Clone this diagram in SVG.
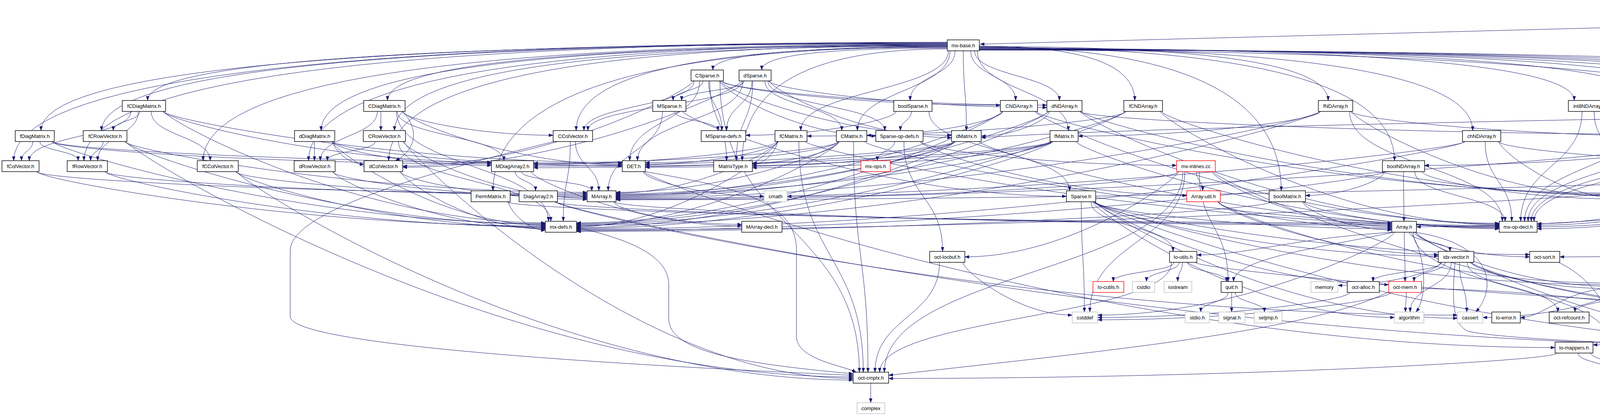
<svg xmlns="http://www.w3.org/2000/svg" width="6073" height="1064" viewBox="0 0 6073 1064">
<style>
.n rect{fill:#fff;stroke:#000;stroke-width:1.4}
.g rect{fill:#fff;stroke:#bfbfbf;stroke-width:1.4}
.r rect{fill:#fff;stroke:#ff0000;stroke-width:1.4}
.root rect{fill:#bfbfbf;stroke:#000;stroke-width:1.4}
text{font-family:"Liberation Sans",Arial,sans-serif;font-size:13px;text-anchor:middle;fill:#000}
#edges path{fill:none;stroke:#191970;stroke-width:1;marker-end:url(#a)}
</style>
<defs>
<marker id="a" markerUnits="userSpaceOnUse" markerWidth="11" markerHeight="8" refX="11" refY="4" orient="auto"><path d="M0,0 L11,4 L0,8 z" fill="#191970" stroke="#191970" stroke-width="0.5"/></marker>
</defs>
<rect width="6073" height="1064" fill="#fff"/>
<g id="edges">
<path d="M5621,31 L2509,113"/>
<path d="M5720,52 C5720,77 5724,77 5724,102"/>
<path d="M5765,44 C5870,65 5950,85 5992,102"/>
<path d="M5675,52 C5640,130 5540,180 5535,257"/>
<path d="M5621,46 C5480,90 5457,160 5457,250 C5457,360 5370,440 5345,488"/>
<path d="M5665,52 C5612,130 5609,210 5609,320 L5609,540 C5609,600 5570,620 5560,643"/>
<path d="M5688,52 C5690,200 5706,350 5706,540 C5706,700 5540,770 5461,806"/>
<path d="M5735,52 C5830,170 5850,260 5720,400 C5600,500 5470,545 5418,568"/>
<path d="M5762,48 C5885,80 5900,150 5900,300 L5900,790 C5900,860 5400,875 4581,889"/>
<path d="M5765,41 C5945,80 5951,160 5951,300 L5951,800 C5951,870 5500,885 4714,890"/>
<path d="M5735,130 C5735,155 5772,155 5772,179"/>
<path d="M5728,130 C5735,300 5760,450 5760,560 C5760,700 5560,790 5461,814"/>
<path d="M6028,130 L6028,179"/>
<path d="M2425,108 Q35,108 35,411"/>
<path d="M2425,109 Q215,109 215,411"/>
<path d="M2425,110 Q105,110 105,334"/>
<path d="M2425,111 Q260,111 260,334"/>
<path d="M2425,112 Q378,112 378,257"/>
<path d="M2425,113 Q520,113 520,411"/>
<path d="M2425,114 Q790,114 790,411"/>
<path d="M2425,115 Q822,115 822,334"/>
<path d="M2425,116 Q995,116 995,411"/>
<path d="M2425,117 Q992,117 992,257"/>
<path d="M2425,118 Q1010,118 1010,334"/>
<path d="M2425,119 Q1475,119 1475,334"/>
<path d="M2425,120 Q1262,120 1262,488"/>
<path d="M2425,121 Q1825,121 1825,179"/>
<path d="M2425,123 Q1950,123 1950,179"/>
<path d="M2425,125 Q1900,125 1900,411"/>
<path d="M2445,130 C2445,194 2330,194 2330,257"/>
<path d="M2432,130 C2432,232 2195,232 2195,334"/>
<path d="M2428,130 C2428,232 2050,232 2050,334"/>
<path d="M2466,130 C2466,232 2474,232 2474,334"/>
<path d="M2485,130 C2485,194 2600,194 2600,257"/>
<path d="M2495,130 C2495,194 2712,194 2712,257"/>
<path d="M2502,130 C2502,232 2735,232 2735,334"/>
<path d="M2507,118 Q2905,118 2905,257"/>
<path d="M2507,119 Q3400,119 3400,257"/>
<path d="M2507,120 Q3280,120 3280,488"/>
<path d="M2507,121 Q3570,121 3570,411"/>
<path d="M2507,122 Q3770,122 3770,334"/>
<path d="M2507,123 Q4030,123 4030,257"/>
<path d="M2507,124 Q4228,124 4228,257"/>
<path d="M2507,125 Q4392,125 4392,257"/>
<path d="M2507,126 Q4533,126 4533,257"/>
<path d="M2507,126 Q4670,126 4670,257"/>
<path d="M2507,127 Q4806,127 4806,257"/>
<path d="M2507,127 Q4962,127 4962,257"/>
<path d="M2507,128 Q5212,128 5212,257"/>
<path d="M2507,128 Q4800,128 4800,411"/>
<path d="M1775,207 C1775,227 1403,425 1031,425"/>
<path d="M1777,207 C1777,270 1495,270 1495,334"/>
<path d="M1800,207 C1800,232 1723,232 1723,257"/>
<path d="M1814,207 C1814,270 1848,270 1848,334"/>
<path d="M1817,207 C1817,309 1860,309 1860,411"/>
<path d="M1791,207 C1791,309 1612,309 1612,411"/>
<path d="M1844,207 C1844,227 2140,346 2436,346"/>
<path d="M1846,207 C1846,227 2263,269 2680,269"/>
<path d="M1850,207 C1850,227 2205,269 2561,269"/>
<path d="M1842,207 C1842,227 2042,348 2242,348"/>
<path d="M1843,207 C1843,580 2200,580 2200,952"/>
<path d="M1898,207 C1898,227 1465,428 1031,428"/>
<path d="M1900,207 C1900,270 1505,270 1505,334"/>
<path d="M1905,207 C1905,232 1745,232 1745,257"/>
<path d="M1925,207 C1925,270 1860,270 1860,334"/>
<path d="M1927,207 C1927,309 1885,309 1885,411"/>
<path d="M1902,207 C1902,309 1632,309 1632,411"/>
<path d="M1970,207 C1970,227 2203,352 2436,352"/>
<path d="M1968,207 C1968,227 2324,275 2680,275"/>
<path d="M1958,207 C1958,270 2155,270 2155,334"/>
<path d="M1966,207 C1966,270 2265,270 2265,334"/>
<path d="M1696,285 C1696,386 1557,386 1557,488"/>
<path d="M1748,285 C1748,305 2239,502 2730,502"/>
<path d="M1727,285 C1727,309 1838,309 1838,334"/>
<path d="M2378,285 C2378,386 2738,386 2738,488"/>
<path d="M2333,285 C2333,309 2305,309 2305,334"/>
<path d="M2294,285 C2294,305 2101,346 1909,346"/>
<path d="M2567,285 C2567,305 2393,346 2219,346"/>
<path d="M2566,285 C2566,305 2071,500 1577,500"/>
<path d="M2565,285 C2565,305 2020,570 1476,570"/>
<path d="M2650,285 C2650,305 3244,571 3838,571"/>
<path d="M2652,285 C2652,305 3398,494 4145,494"/>
<path d="M2686,285 C2686,305 2599,348 2512,348"/>
<path d="M2684,285 C2684,305 2130,502 1577,502"/>
<path d="M2764,285 C2764,305 3561,344 4359,344"/>
<path d="M2683,285 C2683,305 2080,572 1476,572"/>
<path d="M2766,285 C2766,305 3302,573 3838,573"/>
<path d="M2768,285 C2768,305 3456,497 4145,497"/>
<path d="M2882,285 C2882,305 2474,348 2066,348"/>
<path d="M2881,285 C2881,305 2229,504 1577,504"/>
<path d="M2880,285 C2880,305 2178,574 1476,574"/>
<path d="M2971,285 C2971,305 3404,575 3838,575"/>
<path d="M2973,285 C2973,305 3559,500 4145,500"/>
<path d="M3380,285 C3380,305 3070,348 2760,348"/>
<path d="M3379,285 C3379,305 2478,506 1577,506"/>
<path d="M3458,285 C3458,305 3908,350 4359,350"/>
<path d="M3378,285 C3378,305 2427,576 1476,576"/>
<path d="M3455,285 C3455,425 3846,425 3846,566"/>
<path d="M3460,285 C3460,305 3802,503 4145,503"/>
<path d="M2147,362 C2147,382 1862,492 1577,492"/>
<path d="M2146,362 C2146,382 1756,417 1366,417"/>
<path d="M2147,362 C2147,382 2036,417 1926,417"/>
<path d="M2148,362 C2148,382 1812,578 1476,578"/>
<path d="M2214,362 C2214,382 3026,577 3838,577"/>
<path d="M2185,362 C2185,657 2222,657 2222,952"/>
<path d="M2145,362 C2145,382 1899,416 1652,416"/>
<path d="M1990,362 C1990,382 1783,494 1577,494"/>
<path d="M1989,362 C1989,382 1677,421 1366,421"/>
<path d="M1990,362 C1990,382 1958,421 1926,421"/>
<path d="M1991,362 C1991,382 1733,580 1476,580"/>
<path d="M2062,362 C2062,382 2950,579 3838,579"/>
<path d="M2045,362 C2045,657 2210,657 2210,952"/>
<path d="M1992,362 C1992,382 1822,420 1652,420"/>
<path d="M2442,362 C2442,382 2010,496 1577,496"/>
<path d="M2441,362 C2441,382 1903,425 1366,425"/>
<path d="M2443,362 C2443,382 2184,425 1926,425"/>
<path d="M2444,362 C2444,382 1960,582 1476,582"/>
<path d="M2507,362 C2507,382 3172,581 3838,581"/>
<path d="M2445,362 C2445,382 2048,424 1652,424"/>
<path d="M2692,362 C2692,382 2135,498 1577,498"/>
<path d="M2691,362 C2691,382 2028,429 1366,429"/>
<path d="M2693,362 C2693,382 2310,429 1926,429"/>
<path d="M2694,362 C2694,382 2085,584 1476,584"/>
<path d="M2755,362 C2755,382 3296,583 3838,583"/>
<path d="M2695,362 C2695,382 2174,428 1652,428"/>
<path d="M2290,362 C2290,386 2246,386 2246,411"/>
<path d="M2314,362 C2314,502 2413,502 2413,643"/>
<path d="M2357,362 C2357,382 2697,500 3038,500"/>
<path d="M2358,362 C2358,382 2685,423 3012,423"/>
<path d="M3750,362 C3750,382 2663,508 1577,508"/>
<path d="M3836,362 C3836,382 4285,424 4735,424"/>
<path d="M3749,362 C3749,382 2612,586 1476,586"/>
<path d="M3802,362 C3802,464 3870,464 3870,566"/>
<path d="M3837,362 C3837,382 3991,506 4145,506"/>
<path d="M4364,362 C4364,382 2970,510 1577,510"/>
<path d="M4363,362 C4363,382 4005,423 3647,423"/>
<path d="M4116,285 C4116,305 4237,338 4359,338"/>
<path d="M4050,285 C4050,425 3893,425 3893,566"/>
<path d="M4109,285 C4109,541 4609,541 4609,798"/>
<path d="M4081,285 C4081,386 4175,386 4175,488"/>
<path d="M4284,285 C4284,309 4394,309 4394,334"/>
<path d="M4232,285 C4232,425 3903,425 3903,566"/>
<path d="M4308,285 C4308,541 4620,541 4620,798"/>
<path d="M4262,285 C4262,386 4188,386 4188,488"/>
<path d="M4430,285 C4430,309 4415,309 4415,334"/>
<path d="M4380,285 C4380,425 3912,425 3912,566"/>
<path d="M4455,285 C4455,541 4632,541 4632,798"/>
<path d="M4409,285 C4409,386 4200,386 4200,488"/>
<path d="M4522,285 C4522,305 4489,338 4457,338"/>
<path d="M4523,285 C4523,425 3920,425 3920,566"/>
<path d="M4579,285 C4579,541 4645,541 4645,798"/>
<path d="M4533,285 C4533,386 4212,386 4212,488"/>
<path d="M4658,285 C4658,305 4557,342 4457,342"/>
<path d="M4660,285 C4660,425 3927,425 3927,566"/>
<path d="M4702,285 C4702,541 4657,541 4657,798"/>
<path d="M4664,285 C4664,386 4224,386 4224,488"/>
<path d="M4794,285 C4794,305 4625,346 4457,346"/>
<path d="M4796,285 C4796,305 4365,572 3935,572"/>
<path d="M4825,285 C4825,541 4670,541 4670,798"/>
<path d="M4798,285 C4798,305 4521,495 4244,495"/>
<path d="M4951,285 C4951,305 4704,350 4457,350"/>
<path d="M4953,285 C4953,305 4444,576 3935,576"/>
<path d="M4966,285 C4966,541 4682,541 4682,798"/>
<path d="M4955,285 C4955,305 4600,501 4244,501"/>
<path d="M5201,285 C5201,305 4829,354 4457,354"/>
<path d="M5203,285 C5203,305 4569,580 3935,580"/>
<path d="M5205,285 C5205,541 4693,541 4693,798"/>
<path d="M5207,285 C5207,305 4725,507 4244,507"/>
<path d="M5498,276 C4500,300 3000,320 2512,352"/>
<path d="M5520,285 C5500,450 5450,600 5000,630 C4500,650 4200,657 3993,657"/>
<path d="M5541,285 C5541,600 4700,700 4700,875"/>
<path d="M5296,505 C4500,505 4200,580 3626,580"/>
<path d="M5325,516 C5325,541 5292,541 5292,566"/>
<path d="M5339,516 C5339,541 5394,541 5394,566"/>
<path d="M5342,516 C5342,657 5423,657 5423,798"/>
<path d="M5304,516 C5304,695 4690,695 4690,875"/>
<path d="M4818,432 C5050,432 5100,502 5296,502"/>
<path d="M4741,439 C4741,459 3159,511 1577,511"/>
<path d="M4740,439 C4740,459 3108,588 1476,588"/>
<path d="M4742,439 C4742,459 4338,585 3935,585"/>
<path d="M3593,439 C3593,502 3594,502 3594,566"/>
<path d="M3545,439 C3545,459 2510,590 1476,590"/>
<path d="M3622,439 C3622,502 3853,502 3853,566"/>
<path d="M3544,439 C3544,459 3443,500 3342,500"/>
<path d="M3641,439 C3641,459 3893,509 4145,509"/>
<path d="M3336,516 C3336,536 3450,588 3563,588"/>
<path d="M3255,516 C3255,536 2366,592 1476,592"/>
<path d="M3338,516 C3338,536 3588,585 3838,585"/>
<path d="M1319,439 C1319,463 1371,463 1371,488"/>
<path d="M1335,439 C1335,463 1515,463 1515,488"/>
<path d="M1360,439 C1360,459 1630,578 1899,578"/>
<path d="M418,285 C418,305 838,415 1258,415"/>
<path d="M354,285 C354,348 250,348 250,411"/>
<path d="M358,285 C358,309 290,309 290,334"/>
<path d="M335,285 C335,348 75,348 75,411"/>
<path d="M387,285 C387,348 538,348 538,411"/>
<path d="M419,285 C419,305 1006,416 1593,416"/>
<path d="M420,285 C420,305 908,570 1396,570"/>
<path d="M133,362 C133,382 696,419 1258,419"/>
<path d="M102,362 C102,386 200,386 200,411"/>
<path d="M84,362 C84,386 55,386 55,411"/>
<path d="M134,362 C134,382 864,419 1593,419"/>
<path d="M135,362 C135,382 766,572 1396,572"/>
<path d="M1017,285 C1017,348 1290,348 1290,411"/>
<path d="M966,285 C966,348 820,348 820,411"/>
<path d="M975,285 C975,310 975,310 975,334"/>
<path d="M1030,285 C1075,330 1065,385 1012,411"/>
<path d="M1031,285 C1031,305 1223,346 1416,346"/>
<path d="M1032,285 C1032,305 1312,422 1593,422"/>
<path d="M1015,285 C1015,425 1404,425 1404,566"/>
<path d="M851,362 C851,382 1054,423 1258,423"/>
<path d="M805,362 C805,386 805,386 805,411"/>
<path d="M853,362 C853,382 891,420 932,420"/>
<path d="M852,362 C852,382 1222,425 1593,425"/>
<path d="M850,362 C850,382 1124,576 1396,576"/>
<path d="M320,362 C320,382 911,492 1503,492"/>
<path d="M264,362 C264,386 232,386 232,411"/>
<path d="M321,362 C321,382 858,574 1396,574"/>
<path d="M322,362 C322,382 1253,964 2184,964"/>
<path d="M1033,362 C1033,382 1268,507 1503,507"/>
<path d="M960,362 C960,386 838,386 838,411"/>
<path d="M1020,362 C1020,464 1410,464 1410,566"/>
<path d="M1034,362 C1034,382 1609,968 2184,968"/>
<path d="M1473,362 C1473,425 1533,425 1533,488"/>
<path d="M1460,362 C1460,464 1442,464 1442,566"/>
<path d="M1418,362 C1100,440 745,540 743,640 L743,810 C745,880 1500,930 2184,960"/>
<path d="M94,439 C94,459 798,495 1503,495"/>
<path d="M95,439 C95,459 745,578 1396,578"/>
<path d="M269,439 C269,459 886,498 1503,498"/>
<path d="M270,439 C270,459 833,580 1396,580"/>
<path d="M604,439 C604,459 1053,501 1503,501"/>
<path d="M605,439 C605,459 1000,582 1396,582"/>
<path d="M606,439 C606,459 1395,972 2184,972"/>
<path d="M852,439 C852,459 1177,504 1503,504"/>
<path d="M853,439 C853,459 1124,584 1396,584"/>
<path d="M1025,439 C1025,459 1264,510 1503,510"/>
<path d="M1026,439 C1026,459 1211,586 1396,586"/>
<path d="M1298,516 C1298,536 2430,570 3563,570"/>
<path d="M1302,516 C1302,536 1349,589 1396,589"/>
<path d="M1421,516 C1421,536 2492,573 3563,573"/>
<path d="M1422,516 C1422,536 2577,806 3731,806"/>
<path d="M1423,516 C1423,536 2972,885 4521,885"/>
<path d="M1571,516 C1571,536 2567,576 3563,576"/>
<path d="M1572,516 C1572,536 1736,574 1899,574"/>
<path d="M1647,439 C1647,459 1801,502 1956,502"/>
<path d="M1650,439 C1900,480 2039,520 2039,640 L2039,860 C2039,920 2160,935 2192,952"/>
<path d="M1648,439 C1648,459 2815,889 3981,889"/>
<path d="M3033,439 C3033,618 2790,618 2790,798"/>
<path d="M3018,439 C3018,459 2517,502 2015,502"/>
<path d="M3070,439 C3070,579 3144,579 3144,720"/>
<path d="M3028,439 C3028,695 2264,695 2264,952"/>
<path d="M3016,439 C3016,459 2743,657 2470,657"/>
<path d="M3105,439 C3105,459 3853,804 4601,804"/>
<path d="M3103,439 C3103,459 3333,579 3563,579"/>
<path d="M3063,439 C3063,463 3079,463 3079,488"/>
<path d="M3118,516 C3118,536 3340,582 3563,582"/>
<path d="M3119,516 C3119,536 3618,724 4118,724"/>
<path d="M3120,516 C3120,536 3401,651 3682,651"/>
<path d="M2800,516 C2800,536 3181,585 3563,585"/>
<path d="M2801,516 C2801,536 3241,655 3682,655"/>
<path d="M2802,516 C2802,536 3460,728 4118,728"/>
<path d="M2793,516 C2793,579 3003,579 3003,643"/>
<path d="M2803,516 C2803,536 3359,651 3916,651"/>
<path d="M2804,516 C2804,536 3179,728 3555,728"/>
<path d="M2768,516 C2768,657 2776,657 2776,798"/>
<path d="M2805,516 C2805,536 3268,814 3731,814"/>
<path d="M2799,516 C2799,536 3726,882 4654,882"/>
<path d="M2797,516 C2797,536 3183,812 3570,812"/>
<path d="M3568,594 C3400,630 3158,660 3158,720"/>
<path d="M3566,594 C3300,610 3200,652 3064,652"/>
<path d="M3595,594 C3595,657 3597,657 3597,720"/>
<path d="M3612,594 C3652,660 3654,760 3625,798"/>
<path d="M3608,594 C3608,618 3712,618 3712,643"/>
<path d="M3620,594 C3620,614 3768,657 3916,657"/>
<path d="M3622,594 C3830,625 3830,740 3778,798"/>
<path d="M3570,594 C3570,614 3190,806 2810,806"/>
<path d="M3624,594 C3624,614 3871,732 4118,732"/>
<path d="M3618,594 C3618,735 4120,735 4120,875"/>
<path d="M3625,594 C3625,614 4140,886 4654,886"/>
<path d="M3736,671 C3736,734 3755,734 3755,798"/>
<path d="M3715,671 C3715,734 3610,734 3610,798"/>
<path d="M3688,671 C3688,691 3556,730 3425,730"/>
<path d="M3690,671 C3690,695 3515,695 3515,720"/>
<path d="M3700,671 C3700,695 3620,695 3620,720"/>
<path d="M3767,671 C3767,691 3942,738 4118,738"/>
<path d="M3768,671 C3768,691 4184,809 4601,809"/>
<path d="M3756,671 C3756,734 3988,734 3988,798"/>
<path d="M3725,671 C3718,760 3715,830 3760,848 C3900,875 4400,885 4654,892"/>
<path d="M3990,671 C4090,720 4125,800 4128,875"/>
<path d="M3005,671 C3005,695 2850,695 2850,720"/>
<path d="M3019,671 C3019,695 2935,695 2935,720"/>
<path d="M3027,671 C3027,695 3015,695 3015,720"/>
<path d="M3041,671 C3041,695 3140,695 3140,720"/>
<path d="M3060,671 C3060,691 4233,806 5406,806"/>
<path d="M2999,671 C2999,811 2252,811 2252,952"/>
<path d="M2465,671 C2465,691 2605,806 2745,806"/>
<path d="M2405,671 C2405,811 2240,811 2240,952"/>
<path d="M5545,671 C5545,695 5522,695 5522,720"/>
<path d="M5561,671 C5580,760 5560,860 5450,880 C5100,910 4700,950 4517,966"/>
<path d="M5508,748 C5508,773 5441,773 5441,798"/>
<path d="M3144,748 C3144,773 3074,773 3074,798"/>
<path d="M3153,748 C3153,773 3153,773 3153,798"/>
<path d="M3162,748 C3162,773 3237,773 3237,798"/>
<path d="M3455,748 C3455,768 3132,812 2810,812"/>
<path d="M3600,748 C3600,773 3598,773 3598,798"/>
<path d="M3560,748 C3560,768 3185,818 2810,818"/>
<path d="M3558,745 C3350,850 2800,900 2275,960"/>
<path d="M3639,738 C4100,745 4300,814 4601,814"/>
<path d="M4150,748 C4150,773 4032,773 4032,798"/>
<path d="M4168,748 C4168,773 4186,773 4186,798"/>
<path d="M4178,748 C4178,773 4279,773 4279,798"/>
<path d="M4118,737 C4000,745 3950,812 3892,812"/>
<path d="M4213,745 C4350,780 4440,850 4478,952"/>
<path d="M4213,736 C4800,760 5100,810 5406,810"/>
<path d="M4122,748 C4122,768 3959,812 3796,812"/>
<path d="M4641,826 C4641,850 4561,850 4561,875"/>
<path d="M4664,826 C4664,850 4681,850 4681,875"/>
<path d="M4640,826 C4610,880 4560,930 4512,952"/>
<path d="M4605,826 C4605,846 4390,966 4175,966"/>
<path d="M4604,826 C4604,846 4390,889 4176,889"/>
<path d="M4603,826 C4603,846 4340,882 4078,882"/>
<path d="M4040,903 C4040,927 4126,927 4126,952"/>
<path d="M4072,903 C4072,923 4268,966 4464,966"/>
<path d="M3987,903 C3987,923 3131,968 2275,968"/>
<path d="M4137,980 C4137,1005 4137,1005 4137,1030"/>
<path d="M2229,980 C2229,1005 2229,1005 2229,1030"/>
<path d="M1478,582 C1600,610 1712,650 1712,728 L1712,815 C1712,900 1900,930 2184,956"/>
</g>
<g id="n_ovbase" class="root"><rect x="5621" y="6" width="144" height="46"/><text x="5693" y="24">libinterp/octave-value</text><text x="5693" y="41">/ov-base.h</text></g>
<g id="n_mxbase" class="n"><rect x="2425" y="102" width="82" height="28"/><text x="2466" y="120.5">mx-base.h</text></g>
<g id="n_error" class="n"><rect x="5697" y="102" width="59" height="28"/><text x="5726.5" y="120.5">error.h</text></g>
<g id="n_octhdf5" class="n"><rect x="5988" y="102" width="80" height="28"/><text x="6028" y="120.5">oct-hdf5.h</text></g>
<g id="n_CSparse" class="n"><rect x="1769" y="179" width="83" height="28"/><text x="1810.5" y="197.5">CSparse.h</text></g>
<g id="n_dSparse" class="n"><rect x="1892" y="179" width="82" height="28"/><text x="1933" y="197.5">dSparse.h</text></g>
<g id="n_cstdarg" class="g"><rect x="5747" y="179" width="66" height="28"/><text x="5780" y="197.5">cstdarg</text></g>
<g id="n_hdf5" class="g"><rect x="5999" y="179" width="58" height="28"/><text x="6028" y="197.5">hdf5.h</text></g>
<g id="n_fCDiag" class="n"><rect x="313" y="257" width="111" height="28"/><text x="368.5" y="275.5">fCDiagMatrix.h</text></g>
<g id="n_CDiag" class="n"><rect x="931" y="257" width="106" height="28"/><text x="984" y="275.5">CDiagMatrix.h</text></g>
<g id="n_MSparse" class="n"><rect x="1671" y="257" width="85" height="28"/><text x="1713.5" y="275.5">MSparse.h</text></g>
<g id="n_boolSparse" class="n"><rect x="2288" y="257" width="98" height="28"/><text x="2337" y="275.5">boolSparse.h</text></g>
<g id="n_CNDArray" class="n"><rect x="2561" y="257" width="95" height="28"/><text x="2608.5" y="275.5">CNDArray.h</text></g>
<g id="n_dNDArray" class="n"><rect x="2680" y="257" width="90" height="28"/><text x="2725" y="275.5">dNDArray.h</text></g>
<g id="n_fCNDArray" class="n"><rect x="2877" y="257" width="99" height="28"/><text x="2926.5" y="275.5">fCNDArray.h</text></g>
<g id="n_fNDArray" class="n"><rect x="3375" y="257" width="88" height="28"/><text x="3419" y="275.5">fNDArray.h</text></g>
<g id="n_int8" class="n"><rect x="4015" y="257" width="106" height="28"/><text x="4068" y="275.5">int8NDArray.h</text></g>
<g id="n_uint32" class="n"><rect x="4211" y="257" width="119" height="28"/><text x="4270.5" y="275.5">uint32NDArray.h</text></g>
<g id="n_uint64" class="n"><rect x="4374" y="257" width="118" height="28"/><text x="4433" y="275.5">uint64NDArray.h</text></g>
<g id="n_int16" class="n"><rect x="4516" y="257" width="111" height="28"/><text x="4571.5" y="275.5">int16NDArray.h</text></g>
<g id="n_int32" class="n"><rect x="4652" y="257" width="112" height="28"/><text x="4708" y="275.5">int32NDArray.h</text></g>
<g id="n_uint8" class="n"><rect x="4788" y="257" width="112" height="28"/><text x="4844" y="275.5">uint8NDArray.h</text></g>
<g id="n_int64" class="n"><rect x="4945" y="257" width="112" height="28"/><text x="5001" y="275.5">int64NDArray.h</text></g>
<g id="n_uint16" class="n"><rect x="5195" y="257" width="119" height="28"/><text x="5254.5" y="275.5">uint16NDArray.h</text></g>
<g id="n_Range" class="n"><rect x="5498" y="257" width="70" height="28"/><text x="5533" y="275.5">Range.h</text></g>
<g id="n_fDiag" class="n"><rect x="39" y="334" width="100" height="28"/><text x="89" y="352.5">fDiagMatrix.h</text></g>
<g id="n_fCRowVec" class="n"><rect x="213" y="334" width="112" height="28"/><text x="269" y="352.5">fCRowVector.h</text></g>
<g id="n_dDiag" class="n"><rect x="754" y="334" width="103" height="28"/><text x="805.5" y="352.5">dDiagMatrix.h</text></g>
<g id="n_CRowVec" class="n"><rect x="930" y="334" width="108" height="28"/><text x="984" y="352.5">CRowVector.h</text></g>
<g id="n_CColVec" class="n"><rect x="1416" y="334" width="101" height="28"/><text x="1466.5" y="352.5">CColVector.h</text></g>
<g id="n_MSparseDefs" class="n"><rect x="1795" y="334" width="114" height="28"/><text x="1852" y="352.5">MSparse-defs.h</text></g>
<g id="n_fCMatrix" class="n"><rect x="1984" y="334" width="82" height="28"/><text x="2025" y="352.5">fCMatrix.h</text></g>
<g id="n_CMatrix" class="n"><rect x="2141" y="334" width="78" height="28"/><text x="2180" y="352.5">CMatrix.h</text></g>
<g id="n_SparseOpDefs" class="n"><rect x="2242" y="334" width="121" height="28"/><text x="2302.5" y="352.5">Sparse-op-defs.h</text></g>
<g id="n_dMatrix" class="n"><rect x="2436" y="334" width="76" height="28"/><text x="2474" y="352.5">dMatrix.h</text></g>
<g id="n_fMatrix" class="n"><rect x="2688" y="334" width="72" height="28"/><text x="2724" y="352.5">fMatrix.h</text></g>
<g id="n_chNDArray" class="n"><rect x="3744" y="334" width="98" height="28"/><text x="3793" y="352.5">chNDArray.h</text></g>
<g id="n_intNDArray" class="n"><rect x="4359" y="334" width="98" height="28"/><text x="4408" y="352.5">intNDArray.h</text></g>
<g id="n_fColVec" class="n"><rect x="5" y="411" width="95" height="28"/><text x="52.5" y="429.5">fColVector.h</text></g>
<g id="n_fRowVec" class="n"><rect x="172" y="411" width="103" height="28"/><text x="223.5" y="429.5">fRowVector.h</text></g>
<g id="n_fCColVec" class="n"><rect x="505" y="411" width="105" height="28"/><text x="557.5" y="429.5">fCColVector.h</text></g>
<g id="n_dRowVec" class="n"><rect x="753" y="411" width="105" height="28"/><text x="805.5" y="429.5">dRowVector.h</text></g>
<g id="n_dColVec" class="n"><rect x="932" y="411" width="99" height="28"/><text x="981.5" y="429.5">dColVector.h</text></g>
<g id="n_MDiag2" class="n"><rect x="1258" y="411" width="108" height="28"/><text x="1312" y="429.5">MDiagArray2.h</text></g>
<g id="n_DET" class="n"><rect x="1593" y="411" width="59" height="28"/><text x="1622.5" y="429.5">DET.h</text></g>
<g id="n_MatrixType" class="n"><rect x="1827" y="411" width="99" height="28"/><text x="1876.5" y="429.5">MatrixType.h</text></g>
<g id="n_mxops" class="r"><rect x="2204" y="411" width="75" height="28"/><text x="2241.5" y="429.5">mx-ops.h</text></g>
<g id="n_mxinlines" class="r"><rect x="3012" y="411" width="99" height="28"/><text x="3061.5" y="429.5">mx-inlines.cc</text></g>
<g id="n_boolNDArray" class="n"><rect x="3539" y="411" width="108" height="28"/><text x="3593" y="429.5">boolNDArray.h</text></g>
<g id="n_chMatrix" class="n"><rect x="4735" y="411" width="83" height="28"/><text x="4776.5" y="429.5">chMatrix.h</text></g>
<g id="n_PermMatrix" class="n"><rect x="1206" y="488" width="100" height="28"/><text x="1256" y="506.5">PermMatrix.h</text></g>
<g id="n_DiagArray2" class="n"><rect x="1329" y="488" width="98" height="28"/><text x="1378" y="506.5">DiagArray2.h</text></g>
<g id="n_MArray" class="n"><rect x="1503" y="488" width="74" height="28"/><text x="1540" y="506.5">MArray.h</text></g>
<g id="n_cmath" class="g"><rect x="1956" y="488" width="59" height="28"/><text x="1985.5" y="506.5">cmath</text></g>
<g id="n_Sparse" class="n"><rect x="2730" y="488" width="75" height="28"/><text x="2767.5" y="506.5">Sparse.h</text></g>
<g id="n_ArrayUtil" class="r"><rect x="3038" y="488" width="86" height="28"/><text x="3081" y="506.5">Array-util.h</text></g>
<g id="n_boolMatrix" class="n"><rect x="3249" y="488" width="93" height="28"/><text x="3295.5" y="506.5">boolMatrix.h</text></g>
<g id="n_bsxfun" class="n"><rect x="4145" y="488" width="99" height="28"/><text x="4194.5" y="506.5">bsxfun-decl.h</text></g>
<g id="n_strvec" class="n"><rect x="5296" y="488" width="73" height="28"/><text x="5332.5" y="506.5">str-vec.h</text></g>
<g id="n_mxdefs" class="n"><rect x="1396" y="566" width="80" height="28"/><text x="1436" y="584.5">mx-defs.h</text></g>
<g id="n_MArrayDecl" class="n"><rect x="1899" y="566" width="103" height="28"/><text x="1950.5" y="584.5">MArray-decl.h</text></g>
<g id="n_Array" class="n"><rect x="3563" y="566" width="63" height="28"/><text x="3594.5" y="584.5">Array.h</text></g>
<g id="n_mxopdecl" class="n"><rect x="3838" y="566" width="97" height="28"/><text x="3886.5" y="584.5">mx-op-decl.h</text></g>
<g id="n_set" class="g"><rect x="5268" y="566" width="40" height="28"/><text x="5288" y="584.5">set</text></g>
<g id="n_list" class="g"><rect x="5382" y="566" width="38" height="28"/><text x="5401" y="584.5">list</text></g>
<g id="n_octlocbuf" class="n"><rect x="2380" y="643" width="90" height="28"/><text x="2425" y="661.5">oct-locbuf.h</text></g>
<g id="n_loutils" class="n"><rect x="2994" y="643" width="70" height="28"/><text x="3029" y="661.5">lo-utils.h</text></g>
<g id="n_idxvector" class="n"><rect x="3682" y="643" width="91" height="28"/><text x="3727.5" y="661.5">idx-vector.h</text></g>
<g id="n_octsort" class="n"><rect x="3916" y="643" width="77" height="28"/><text x="3954.5" y="661.5">oct-sort.h</text></g>
<g id="n_dataconv" class="n"><rect x="5505" y="643" width="91" height="28"/><text x="5550.5" y="661.5">data-conv.h</text></g>
<g id="n_locutils" class="r"><rect x="2798" y="720" width="79" height="28"/><text x="2837.5" y="738.5">lo-cutils.h</text></g>
<g id="n_cstdio" class="g"><rect x="2899" y="720" width="57" height="28"/><text x="2927.5" y="738.5">cstdio</text></g>
<g id="n_iostream" class="g"><rect x="2980" y="720" width="71" height="28"/><text x="3015.5" y="738.5">iostream</text></g>
<g id="n_quit" class="n"><rect x="3126" y="720" width="54" height="28"/><text x="3153" y="738.5">quit.h</text></g>
<g id="n_memory" class="g"><rect x="3356" y="720" width="69" height="28"/><text x="3390.5" y="738.5">memory</text></g>
<g id="n_octalloc" class="n"><rect x="3449" y="720" width="82" height="28"/><text x="3490" y="738.5">oct-alloc.h</text></g>
<g id="n_octmem" class="r"><rect x="3555" y="720" width="84" height="28"/><text x="3597" y="738.5">oct-mem.h</text></g>
<g id="n_dimvector" class="n"><rect x="4118" y="720" width="95" height="28"/><text x="4165.5" y="738.5">dim-vector.h</text></g>
<g id="n_machinfo" class="n"><rect x="5471" y="720" width="90" height="28"/><text x="5516" y="738.5">mach-info.h</text></g>
<g id="n_cstddef" class="g"><rect x="2745" y="798" width="65" height="28"/><text x="2777.5" y="816.5">cstddef</text></g>
<g id="n_stdioh" class="g"><rect x="3034" y="798" width="62" height="28"/><text x="3065" y="816.5">stdio.h</text></g>
<g id="n_signalh" class="g"><rect x="3120" y="798" width="67" height="28"/><text x="3153.5" y="816.5">signal.h</text></g>
<g id="n_setjmp" class="g"><rect x="3211" y="798" width="71" height="28"/><text x="3246.5" y="816.5">setjmp.h</text></g>
<g id="n_algorithm" class="g"><rect x="3570" y="798" width="75" height="28"/><text x="3607.5" y="816.5">algorithm</text></g>
<g id="n_cassert" class="g"><rect x="3731" y="798" width="65" height="28"/><text x="3763.5" y="816.5">cassert</text></g>
<g id="n_loerror" class="n"><rect x="3819" y="798" width="73" height="28"/><text x="3855.5" y="816.5">lo-error.h</text></g>
<g id="n_octrefcount" class="n"><rect x="3966" y="798" width="102" height="28"/><text x="4017" y="816.5">oct-refcount.h</text></g>
<g id="n_lomacros" class="n"><rect x="4143" y="798" width="90" height="28"/><text x="4188" y="816.5">lo-macros.h</text></g>
<g id="n_sstream" class="g"><rect x="4258" y="798" width="68" height="28"/><text x="4292" y="816.5">sstream</text></g>
<g id="n_octinttypes" class="n"><rect x="4601" y="798" width="100" height="28"/><text x="4651" y="816.5">oct-inttypes.h</text></g>
<g id="n_string" class="g"><rect x="5406" y="798" width="55" height="28"/><text x="5433.5" y="816.5">string</text></g>
<g id="n_lomappers" class="n"><rect x="3981" y="875" width="97" height="28"/><text x="4029.5" y="893.5">lo-mappers.h</text></g>
<g id="n_lotraits" class="n"><rect x="4101" y="875" width="75" height="28"/><text x="4138.5" y="893.5">lo-traits.h</text></g>
<g id="n_cstdlib" class="g"><rect x="4521" y="875" width="60" height="28"/><text x="4551" y="893.5">cstdlib</text></g>
<g id="n_iosfwd" class="g"><rect x="4654" y="875" width="60" height="28"/><text x="4684" y="893.5">iosfwd</text></g>
<g id="n_octcmplx" class="n"><rect x="2184" y="952" width="91" height="28"/><text x="2229.5" y="970.5">oct-cmplx.h</text></g>
<g id="n_lomath" class="n"><rect x="4099" y="952" width="76" height="28"/><text x="4137" y="970.5">lo-math.h</text></g>
<g id="n_limits" class="g"><rect x="4464" y="952" width="53" height="28"/><text x="4490.5" y="970.5">limits</text></g>
<g id="n_complex" class="g"><rect x="2194" y="1030" width="71" height="28"/><text x="2229.5" y="1048.5">complex</text></g>
<g id="n_mathh" class="g"><rect x="4106" y="1030" width="62" height="28"/><text x="4137" y="1048.5">math.h</text></g>
</svg>
